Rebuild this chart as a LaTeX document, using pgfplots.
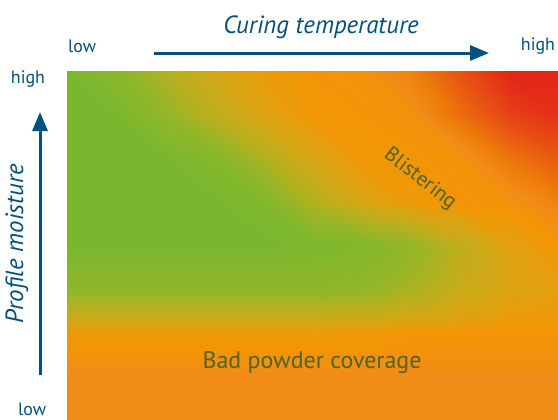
\documentclass[border=0pt]{standalone}
\usepackage{pgfplots}
\pgfplotsset{compat=1.18}
\usetikzlibrary{arrows.meta}
\usepackage{fontspec}
\setmainfont{PT Sans}
\definecolor{tblue}{RGB}{0,80,130}
\definecolor{tgreen}{RGB}{80,100,40}
\begin{document}
\begin{tikzpicture}[x=1bp,y=1bp]
\useasboundingbox (0,0) rectangle (558,419);
\begin{axis}[at={(67bp,0bp)},anchor=south west, scale only axis,
  width=491bp, height=348bp, xmin=0,xmax=10,ymin=0,ymax=8,
  hide axis, view={0}{90},
  colormap={heat}{rgb255(0pt)=(122,183,46); rgb255(20pt)=(150,182,40);
    rgb255(35pt)=(185,175,30); rgb255(50pt)=(215,165,20);
    rgb255(62pt)=(243,150,5); rgb255(68pt)=(241,140,22);
    rgb255(74pt)=(238,125,10); rgb255(85pt)=(232,85,18);
    rgb255(100pt)=(226,30,26)},
  point meta min=0, point meta max=1]
\addplot3[surf, shader=interp, mesh/rows=9] table {
x y z
0 0 0.68
1 0 0.68
2 0 0.68
3 0 0.68
4 0 0.68
5 0 0.68
6 0 0.68
7 0 0.68
8 0 0.68
9 0 0.68
10 0 0.68

0 1 0.68
1 1 0.68
2 1 0.68
3 1 0.68
4 1 0.68
5 1 0.68
6 1 0.68
7 1 0.68
8 1 0.68
9 1 0.68
10 1 0.68

0 2 0.59
1 2 0.59
2 2 0.59
3 2 0.59
4 2 0.59
5 2 0.59
6 2 0.60
7 2 0.62
8 2 0.62
9 2 0.63
10 2 0.63

0 3 0.15
1 3 0.15
2 3 0.15
3 3 0.15
4 3 0.15
5 3 0.15
6 3 0.17
7 3 0.28
8 3 0.42
9 3 0.52
10 3 0.55

0 4 0
1 4 0
2 4 0
3 4 0
4 4 0
5 4 0.02
6 4 0.06
7 4 0.18
8 4 0.38
9 4 0.54
10 4 0.62

0 5 0
1 5 0
2 5 0
3 5 0
4 5 0.05
5 5 0.32
6 5 0.50
7 5 0.60
8 5 0.63
9 5 0.64
10 5 0.72

0 6 0
1 6 0
2 6 0
3 6 0.08
4 6 0.30
5 6 0.50
6 6 0.61
7 6 0.62
8 6 0.64
9 6 0.76
10 6 0.84

0 7 0
1 7 0.01
2 7 0.18
3 7 0.38
4 7 0.52
5 7 0.61
6 7 0.63
7 7 0.65
8 7 0.78
9 7 0.90
10 7 0.95

0 8 0
1 8 0.12
2 8 0.32
3 8 0.48
4 8 0.58
5 8 0.63
6 8 0.64
7 8 0.72
8 8 0.86
9 8 0.98
10 8 0.98
};
\end{axis}
% top annotations
\node[tblue, font=\fontsize{25}{27}\selectfont\itshape] at (321,392) {Curing temperature};
\draw[tblue, line width=3bp, -{Triangle[length=19bp,width=15bp]}] (154,366) -- (489,366);
\node[tblue, font=\fontsize{18}{20}\selectfont] at (82,373) {low};
\node[tblue, font=\fontsize{18}{20}\selectfont] at (538,373) {high};
% left annotations
\node[tblue, font=\fontsize{18}{20}\selectfont] at (28,340) {high};
\node[tblue, font=\fontsize{18}{20}\selectfont, anchor=base, inner sep=0pt] at (32,4) {low};
\draw[tblue, line width=3bp, -{Triangle[length=19bp,width=15bp]}] (40,44) -- (40,307);
\node[tblue, rotate=90, font=\fontsize{25}{27}\selectfont\itshape] at (17,175) {Profile moisture};
% region labels
\node[tgreen, rotate=-38, font=\fontsize{21}{23}\selectfont] at (420,240) {Blistering};
\node[tgreen, font=\fontsize{24}{26}\selectfont] at (312,56) {Bad powder coverage};
\end{tikzpicture}
\end{document}
